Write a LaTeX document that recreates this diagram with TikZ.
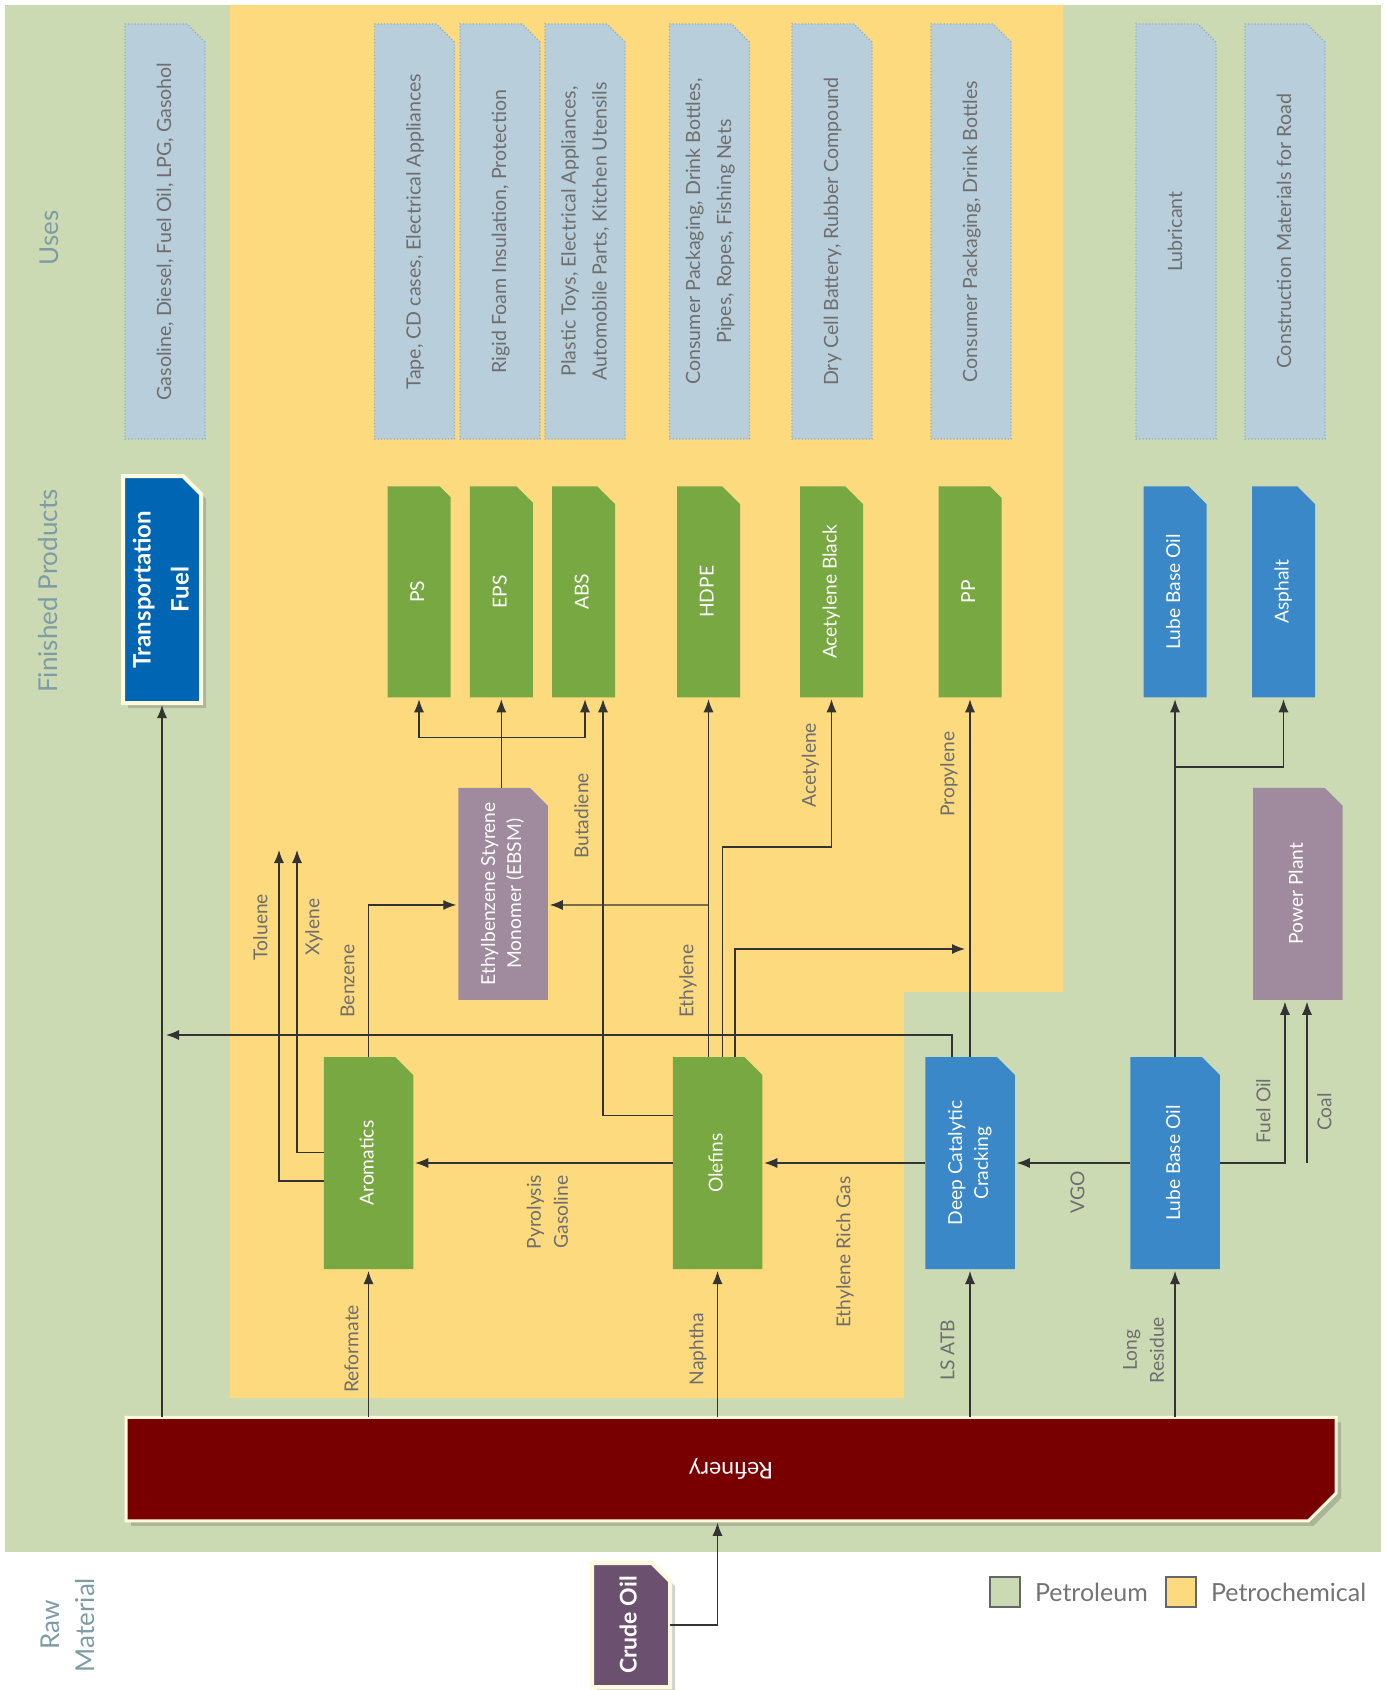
\documentclass[tikz,border=0pt]{standalone}
\usepackage{fontspec}
\setmainfont{Lato}
\usetikzlibrary{shapes.misc,arrows.meta,shadows,positioning}

\definecolor{petrol}{HTML}{CCDAB4}
\definecolor{petchem}{HTML}{FEDA7E}
\definecolor{usefill}{HTML}{B8CEDB}
\definecolor{useline}{HTML}{8FAEC3}
\definecolor{plant}{HTML}{78A842}
\definecolor{unit}{HTML}{3A88C8}
\definecolor{fuelblue}{HTML}{0066B3}
\definecolor{mauve}{HTML}{A08A9E}
\definecolor{refred}{HTML}{780000}
\definecolor{crude}{HTML}{6B5070}
\definecolor{cream}{HTML}{FFFADE}
\definecolor{labelgray}{HTML}{6E6E6E}
\definecolor{headgray}{HTML}{7E9CA6}

% upright text turned to read bottom to top; no width so the boxes keep their size
\newcommand{\vlab}[1]{\makebox[0pt]{\rotatebox{90}{\begin{tabular}{@{}c@{}}#1\end{tabular}}}}

\tikzset{
    chamf/.style={chamfered rectangle, chamfered rectangle corners=north east,
        chamfered rectangle xsep=9pt, chamfered rectangle ysep=9pt, inner sep=0pt, outer sep=0pt},
    usebox/.style={chamf, fill=usefill, draw=useline, densely dotted, line width=0.6pt,
        minimum width=40pt, minimum height=207.5pt, text=labelgray, font=\fontsize{9.8}{15.5}\selectfont},
    product/.style={chamf, minimum width=31.5pt, minimum height=105.5pt, text=white,
        font=\fontsize{9.6}{13}\selectfont},
    unitbox/.style={chamf, minimum width=44.75pt, minimum height=106pt, text=white,
        font=\fontsize{9.6}{13}\selectfont},
    mainbox/.style={chamf, draw=cream, line width=2pt, text=white,
        drop shadow={shadow xshift=2.5pt, shadow yshift=-2.5pt, opacity=0.25, fill=black!70}},
    flow/.style={draw=black!80, line width=0.6pt, -{Latex[length=6.5pt,width=5pt]}, shorten >=1pt},
    flowlabel/.style={text=labelgray, font=\fontsize{9.6}{13.5}\selectfont, inner sep=0pt},
    heading/.style={text=headgray, font=\fontsize{13}{17.5}\selectfont, inner sep=0pt},
    legendbox/.style={draw=black!60, line width=0.6pt, minimum size=15pt, inner sep=0pt},
    legendtext/.style={text=black!55, font=\fontsize{12.5}{15}\selectfont, inner sep=0pt, anchor=west},
}

\begin{document}
\begin{tikzpicture}[x=0.5pt, y=-0.5pt]
        \useasboundingbox (0,0) rectangle (1386,1690);

        % petroleum and petrochemical areas
        \fill[petrol] (5,5) rectangle (1381,1552);
        \fill[petchem] (230,5) -- (1063,5) -- (1063,992) -- (904,992) -- (904,1398) -- (230,1398) -- cycle;

        \node[heading] (hduses) at (51,238) {\vlab{Uses}};
        \node[heading] (hdfinished) at (50,591) {\vlab{Finished Products}};
        \node[heading] (hdraw) at (70,1625) {\vlab{Raw\\Material}};

        % uses
        \node[usebox] (usefuel) at (165,231.5) {\vlab{Gasoline, Diesel, Fuel Oil, LPG, Gasohol}};
        \node[usebox] (useps) at (414.5,231.5) {\vlab{Tape, CD cases, Electrical Appliances}};
        \node[usebox] (useeps) at (500,231.5) {\vlab{Rigid Foam Insulation, Protection}};
        \node[usebox] (useabs) at (585,231.5) {\vlab{Plastic Toys, Electrical Appliances,\\Automobile Parts, Kitchen Utensils}};
        \node[usebox] (usehdpe) at (709.5,231.5) {\vlab{Consumer Packaging, Drink Bottles,\\Pipes, Ropes, Fishing Nets}};
        \node[usebox] (useab) at (832,231.5) {\vlab{Dry Cell Battery, Rubber Compound}};
        \node[usebox] (usepp) at (971,231.5) {\vlab{Consumer Packaging, Drink Bottles}};
        \node[usebox] (uselube) at (1176,231.5) {\vlab{Lubricant}};
        \node[usebox] (useasph) at (1285,231.5) {\vlab{Construction Materials for Road}};

        % finished products
        \node[mainbox, fill=fuelblue, minimum width=39pt, minimum height=113.5pt,
            font=\bfseries\fontsize{12}{19}\selectfont] (tf) at (162,589.5) {\vlab{Transportation\\Fuel}};
        \node[product, fill=plant] (ps) at (419,591.75) {\vlab{PS}};
        \node[product, fill=plant] (eps) at (501.3,591.75) {\vlab{EPS}};
        \node[product, fill=plant] (abs) at (583.5,591.75) {\vlab{ABS}};
        \node[product, fill=plant] (hdpe) at (708.5,591.75) {\vlab{HDPE}};
        \node[product, fill=plant] (ab) at (831.5,591.75) {\vlab{Acetylene Black}};
        \node[product, fill=plant] (pp) at (970,591.75) {\vlab{PP}};
        \node[product, fill=unit] (lubetop) at (1175,591.75) {\vlab{Lube Base Oil}};
        \node[product, fill=unit] (asph) at (1283.5,591.75) {\vlab{Asphalt}};

        % intermediate plants
        \node[unitbox, fill=mauve] (ebsm) at (503,893.75) {\vlab{Ethylbenzene Styrene\\Monomer (EBSM)}};
        \node[unitbox, fill=mauve] (power) at (1297.75,893.75) {\vlab{Power Plant}};
        \node[unitbox, fill=plant] (arom) at (368.5,1163) {\vlab{Aromatics}};
        \node[unitbox, fill=plant] (olef) at (717.5,1163) {\vlab{Olefins}};
        \node[unitbox, fill=unit] (dcc) at (970,1163) {\vlab{Deep Catalytic\\Cracking}};
        \node[unitbox, fill=unit] (lubelow) at (1175,1163) {\vlab{Lube Base Oil}};

        % refinery and feed
        \node[mainbox, fill=refred, line width=1.5pt, chamfered rectangle corners=south east,
            chamfered rectangle xsep=8.5pt, chamfered rectangle ysep=8.5pt,
            minimum width=605pt, minimum height=51.75pt, font=\fontsize{11.5}{13}\selectfont]
            (ref) at (731,1469) {\rotatebox{180}{Refinery}};
        \node[mainbox, fill=crude, minimum width=39pt, minimum height=62pt,
            font=\bfseries\fontsize{11.5}{14}\selectfont] (crude) at (631,1625) {\vlab{Crude Oil}};

        \coordinate (fuelmerge) at (164,1035);
        \coordinate (tolend) at (279,848);
        \coordinate (xylend) at (297,848);
        \coordinate (stylfork) at (501.5,737.5);
        \coordinate (propmerge) at (967,949);
        \coordinate (lubefork) at (1175,767);
        \coordinate (coalsrc) at (1307,1163);

        % refinery streams
        \draw[flow] (crude.east) -| (olef.south |- ref.south);
        \draw[flow] (tf.south |- ref.north) -- (tf.south);
        \draw[flow] (arom.south |- ref.north) -- (arom.south);
        \draw[flow] (olef.south |- ref.north) -- (olef.south);
        \draw[flow] (dcc.south |- ref.north) -- (dcc.south);
        \draw[flow] (lubelow.south |- ref.north) -- (lubelow.south);

        % side streams between plants
        \draw[flow] (lubelow.west) -- (dcc.east);
        \draw[flow] (dcc.west) -- (olef.east);
        \draw[flow] (olef.west) -- (arom.east);
        \draw[flow] ([xshift=-9pt]dcc.north) |- (fuelmerge);
        \draw[flow] (lubelow.east) -| ([xshift=-6.4pt]power.south);
        \draw[flow] (coalsrc) -- (coalsrc |- power.south);
        \draw[flow] (lubelow.north) -- (lubetop.south);
        \draw[flow] (lubefork) -| (asph.south);
        \draw[flow] (dcc.north) -- (pp.south);

        % olefins products
        \draw[flow] (hdpe.south |- olef.north) -- (hdpe.south);
        \draw[flow] (hdpe.south |- 0,905) -- ([yshift=-5.6pt]ebsm.east);
        \draw[flow] ([xshift=2.6pt]olef.north) |- (ab.south |- 0,847) -- (ab.south);
        \draw[flow] ([xshift=8.75pt]olef.north) |- (propmerge);
        \draw[flow] ([yshift=23.65pt]olef.west) -| ([xshift=9.75pt]abs.south);

        % aromatics products
        \draw[flow] (arom.north) |- ([yshift=-5.6pt]ebsm.west);
        \draw[flow] ([yshift=-9pt]arom.west) -| (tolend);
        \draw[flow] ([yshift=5.35pt]arom.west) -| (xylend);

        % styrene to polymers
        \draw[flow] (eps.south |- ebsm.north) -- (eps.south);
        \draw[flow] (stylfork) -| (ps.south);
        \draw[flow] (stylfork) -| ([xshift=0.75pt]abs.south);

        % stream names
        \node[flowlabel] (lbreformate) at (353,1349) {\vlab{Reformate}};
        \node[flowlabel] (lbnaphtha) at (698,1349) {\vlab{Naphtha}};
        \node[flowlabel] (lblsatb) at (949,1350) {\vlab{LS ATB}};
        \node[flowlabel] (lblongres) at (1145,1350) {\vlab{Long\\Residue}};
        \node[flowlabel] (lbethrich) at (845,1252) {\vlab{Ethylene Rich Gas}};
        \node[flowlabel] (lbpyro) at (549,1212) {\vlab{Pyrolysis\\Gasoline}};
        \node[flowlabel] (lbvgo) at (1079,1192) {\vlab{VGO}};
        \node[flowlabel] (lbfueloil) at (1265,1111) {\vlab{Fuel Oil}};
        \node[flowlabel] (lbcoal) at (1326,1112) {\vlab{Coal}};
        \node[flowlabel] (lbtoluene) at (262,927) {\vlab{Toluene}};
        \node[flowlabel] (lbxylene) at (314,927) {\vlab{Xylene}};
        \node[flowlabel] (lbbenzene) at (349,981) {\vlab{Benzene}};
        \node[flowlabel] (lbbutadiene) at (583,816) {\vlab{Butadiene}};
        \node[flowlabel] (lbethylene) at (688,981) {\vlab{Ethylene}};
        \node[flowlabel] (lbacetylene) at (810.5,765) {\vlab{Acetylene}};
        \node[flowlabel] (lbpropylene) at (949,774) {\vlab{Propylene}};

        % legend
        \node[legendbox, fill=petrol] (legpet) at (1005,1592) {};
        \node[legendtext, right=7pt of legpet] (legpettxt) {Petroleum};
        \node[legendbox, fill=petchem] (legchem) at (1181,1592) {};
        \node[legendtext, right=7pt of legchem] (legchemtxt) {Petrochemical};
    \end{tikzpicture}
\end{document}
